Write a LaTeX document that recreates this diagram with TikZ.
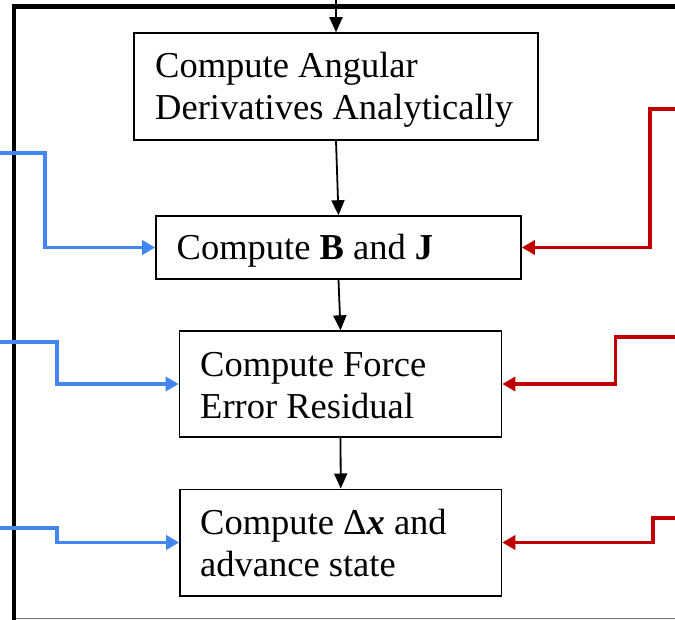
\documentclass[tikz,border=0pt]{standalone}
\usepackage{fontspec}
\setmainfont{Liberation Serif}
\usetikzlibrary{arrows.meta}
\definecolor{flowblue}{RGB}{66,133,244}
\definecolor{flowred}{RGB}{192,0,0}
\begin{document}
\begin{tikzpicture}[x=1pt,y=-1pt,
  stepbox/.style={draw=black,line width=1.6pt,fill=white,anchor=center,inner sep=0pt},
  steptext/.style={anchor=base west,align=left,inner sep=0pt,font=\fontsize{36.5}{42}\selectfont},
  flow/.style={draw=black,line width=1.8pt,-{Triangle[length=15pt,width=13pt]}},
  bluein/.style={draw=flowblue,line width=3.8pt,-{Triangle[length=13pt,width=14pt]}},
  redin/.style={draw=flowred,line width=3.8pt,-{Triangle[length=13pt,width=14pt]}},
  frame/.style={draw=black,line width=4.5pt}
]
\useasboundingbox (0,0) rectangle (675,620);
% outer frame
\coordinate (ftr) at (675,6.5);
\coordinate (ftl) at (11.75,6.5);
\coordinate (fbl) at (14,625);
\coordinate (fcl) at (14,4);
\draw[frame,line width=5pt] (ftr) -- (ftl);
\draw[frame] (fcl) -- (fbl);
\coordinate (bbl) at (16,618.3);
\coordinate (bbr) at (675,618.3);
\draw[draw=black!55,line width=1.5pt] (bbl) -- (bbr);

% boxes
\node[stepbox,minimum width=404pt,minimum height=107pt] (b1) at (336,86.5) {};
\node[steptext] (t1) at (155,120) {Compute Angular\\Derivatives Analytically};
\node[stepbox,minimum width=365pt,minimum height=63pt] (b2) at (338.5,247.5) {};
\node[steptext] (t2) at (176.5,260) {Compute \textbf{B} and \textbf{J}};
\node[stepbox,minimum width=322pt,minimum height=105.7pt] (b3) at (340.5,384) {};
\node[steptext] (t3) at (200,418) {Compute Force\\Error Residual};
\node[stepbox,minimum width=321.5pt,minimum height=106.4pt] (b4) at (340.75,542.5) {};
\node[steptext] (t4) at (200,576.7) {Compute Δ\textbf{\textit{x}} and\\advance state};

% black flow
\coordinate (in) at (336,0);
\draw[flow] (in) -- (b1.north);
\draw[flow] (b1.south) -- (b2.north);
\draw[flow] (b2.south) -- (b3.north);
\draw[flow] (b3.south) -- (b4.north);

% blue inputs
\coordinate (bl1) at (0,153.3);
\coordinate (bl2) at (0,342.3);
\coordinate (bl3) at (0,527.7);
\draw[bluein] (bl1) -- (45,153.3) |- (b2.west);
\draw[bluein] (bl2) -- (57,342.3) |- (b3.west);
\draw[bluein] (bl3) -- (57,527.7) |- (b4.west);

% red inputs
\coordinate (rd1) at (676,109);
\coordinate (rd2) at (676,337.3);
\coordinate (rd3) at (676,518.3);
\draw[redin] (rd1) -- (650,109) |- (b2.east);
\draw[redin] (rd2) -- (615.5,337.3) |- (b3.east);
\draw[redin] (rd3) -- (653,518.3) |- (b4.east);
\end{tikzpicture}
\end{document}
